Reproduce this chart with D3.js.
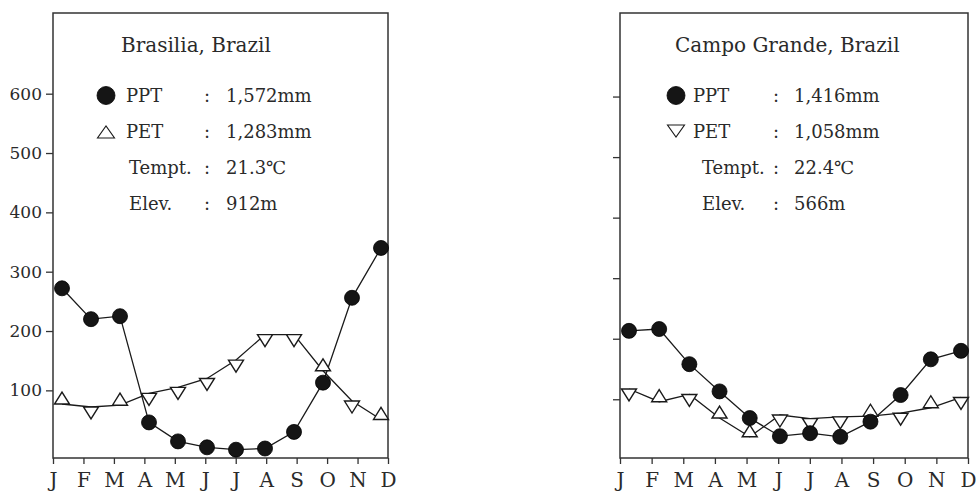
<!DOCTYPE html>
<html>
<head>
<meta charset="utf-8">
<script src="https://cdn.jsdelivr.net/npm/d3@7.9.0/dist/d3.min.js"></script>
<style>
  html, body { margin: 0; padding: 0; background: #fff; }
  svg { display: block; }
  text { font-family: "DejaVu Serif", "Liberation Serif", serif; fill: #2a2a2a; }
</style>
</head>
<body>
<svg id="chart" width="976" height="492"></svg>
<script>
// data (mm per month)
const months = ['J', 'F', 'M', 'A', 'M', 'J', 'J', 'A', 'S', 'O', 'N', 'D'];
const yTicks = [100, 200, 300, 400, 500, 600];

const brasiliaPpt = [272, 220, 225, 46, 14, 4, 0, 2, 30, 113, 256, 340];
const brasiliaPet = [77, 72, 75, 95, 105, 120, 151, 194, 194, 133, 82, 51];
const brasiliaPetUp = [true, false, true, false, false, false, false, false, false, true, false, true];

const campoPpt = [213, 216, 158, 113, 69, 39, 44, 38, 63, 107, 166, 180];
const campoPet = [117, 96, 108, 69, 38, 74, 68, 71, 72, 77, 86, 103];
const campoPetUp = [false, true, false, true, true, false, false, false, true, false, true, false];

const brasiliaInfo = ['Brasilia, Brazil', '1,572mm', '1,283mm', '21.3℃', '912m'];
const campoInfo = ['Campo Grande, Brazil', '1,416mm', '1,058mm', '22.4℃', '566m'];

// panel layout
const panels = [
  { x0: 53, x1: 388, yDomain: [-14, 736], labels: true, ppt: brasiliaPpt, pet: brasiliaPet,
    petUp: brasiliaPetUp, info: brasiliaInfo, legendUp: true,
    lg: { title: 121, marker: 106, text: 126, text2: 129, colon: 204, value: 226 } },
  { x0: 620, x1: 968, yDomain: [3, 738], labels: false, ppt: campoPpt, pet: campoPet,
    petUp: campoPetUp, info: campoInfo, legendUp: false,
    lg: { title: 675, marker: 676, text: 693, text2: 702, colon: 773, value: 794 } }
];

const plotTop = 13, plotBottom = 458;
const svg = d3.select('#chart');
const idx = d3.range(12);

function triangle(x, y, up, s, h) {
  // base sits on the value, tip points up or down
  return up
    ? `M${x - s / 2},${y}L${x + s / 2},${y}L${x},${y - h}Z`
    : `M${x - s / 2},${y}L${x + s / 2},${y}L${x},${y + h}Z`;
}

panels.forEach(p => {
  const g = svg.append('g');

  const xTick = d3.scalePoint().domain(idx).range([p.x0, p.x1]);
  const xMark = d3.scalePoint().domain(idx).range([p.x0 + 9, p.x1 - 7]);
  const y = d3.scaleLinear().domain(p.yDomain).range([plotBottom, plotTop]);

  // frame
  g.append('rect')
    .attr('x', p.x0).attr('y', plotTop)
    .attr('width', p.x1 - p.x0).attr('height', plotBottom - plotTop)
    .attr('fill', 'none').attr('stroke', '#333').attr('stroke-width', 1.5);

  // y axis
  const yAxis = d3.axisLeft(y).tickValues(yTicks).tickSize(7).tickPadding(4)
    .tickFormat(p.labels ? d3.format('d') : '');
  const ya = g.append('g').attr('transform', `translate(${p.x0},0)`).call(yAxis);
  ya.select('.domain').remove();
  ya.selectAll('line').attr('stroke', '#333').attr('stroke-width', 1.3);
  ya.selectAll('text').style('font-size', '17px').attr('fill', '#2a2a2a')
    .style('font-family', '"DejaVu Serif", serif');

  // x axis
  const xAxis = d3.axisBottom(xTick).tickSize(6).tickPadding(9).tickFormat(i => months[i]);
  const xa = g.append('g').attr('transform', `translate(0,${plotBottom})`).call(xAxis);
  xa.select('.domain').remove();
  xa.selectAll('line').attr('stroke', '#333').attr('stroke-width', 1.3);
  xa.selectAll('text').style('font-size', '20px').attr('fill', '#2a2a2a')
    .style('font-family', '"DejaVu Serif", serif');

  // lines
  const line = vals => d3.line().x(i => xMark(i)).y(i => y(vals[i]))(idx);
  g.append('path').attr('d', line(p.pet))
    .attr('fill', 'none').attr('stroke', '#1a1a1a').attr('stroke-width', 1.3);
  g.append('path').attr('d', line(p.ppt))
    .attr('fill', 'none').attr('stroke', '#1a1a1a').attr('stroke-width', 1.3);

  // PET triangles
  g.selectAll('path.pet').data(idx).join('path')
    .attr('class', 'pet')
    .attr('d', i => triangle(xMark(i), y(p.pet[i]), p.petUp[i], 15, 12))
    .attr('fill', '#fff').attr('stroke', '#1a1a1a').attr('stroke-width', 1.4);

  // PPT dots
  g.selectAll('circle.ppt').data(idx).join('circle')
    .attr('class', 'ppt')
    .attr('cx', i => xMark(i)).attr('cy', i => y(p.ppt[i]))
    .attr('r', 7.5)
    .attr('fill', '#151515').attr('stroke', '#000').attr('stroke-width', 0.8);

  // legend block
  const lg = p.lg;
  g.append('text').attr('x', lg.title).attr('y', 52)
    .style('font-size', '20px').text(p.info[0]);

  const rows = [
    ['PPT', p.info[1]],
    ['PET', p.info[2]],
    ['Tempt.', p.info[3]],
    ['Elev.', p.info[4]]
  ];
  const rowY = [102, 138, 174, 210];
  rows.forEach(([label, value], r) => {
    g.append('text').attr('x', r < 2 ? lg.text : lg.text2).attr('y', rowY[r])
      .style('font-size', '18px').text(label);
    g.append('text').attr('x', lg.colon).attr('y', rowY[r]).style('font-size', '18px').text(':');
    g.append('text').attr('x', lg.value).attr('y', rowY[r]).style('font-size', '18px').text(value);
  });

  g.append('circle').attr('cx', lg.marker).attr('cy', rowY[0] - 6.5).attr('r', 9)
    .attr('fill', '#151515').attr('stroke', '#000').attr('stroke-width', 0.8);
  const ty = p.legendUp ? rowY[1] : rowY[1] - 13;
  g.append('path').attr('d', triangle(lg.marker, ty, p.legendUp, 17, 12))
    .attr('fill', '#fff').attr('stroke', '#1a1a1a').attr('stroke-width', 1.1);
});
</script>
</body>
</html>
